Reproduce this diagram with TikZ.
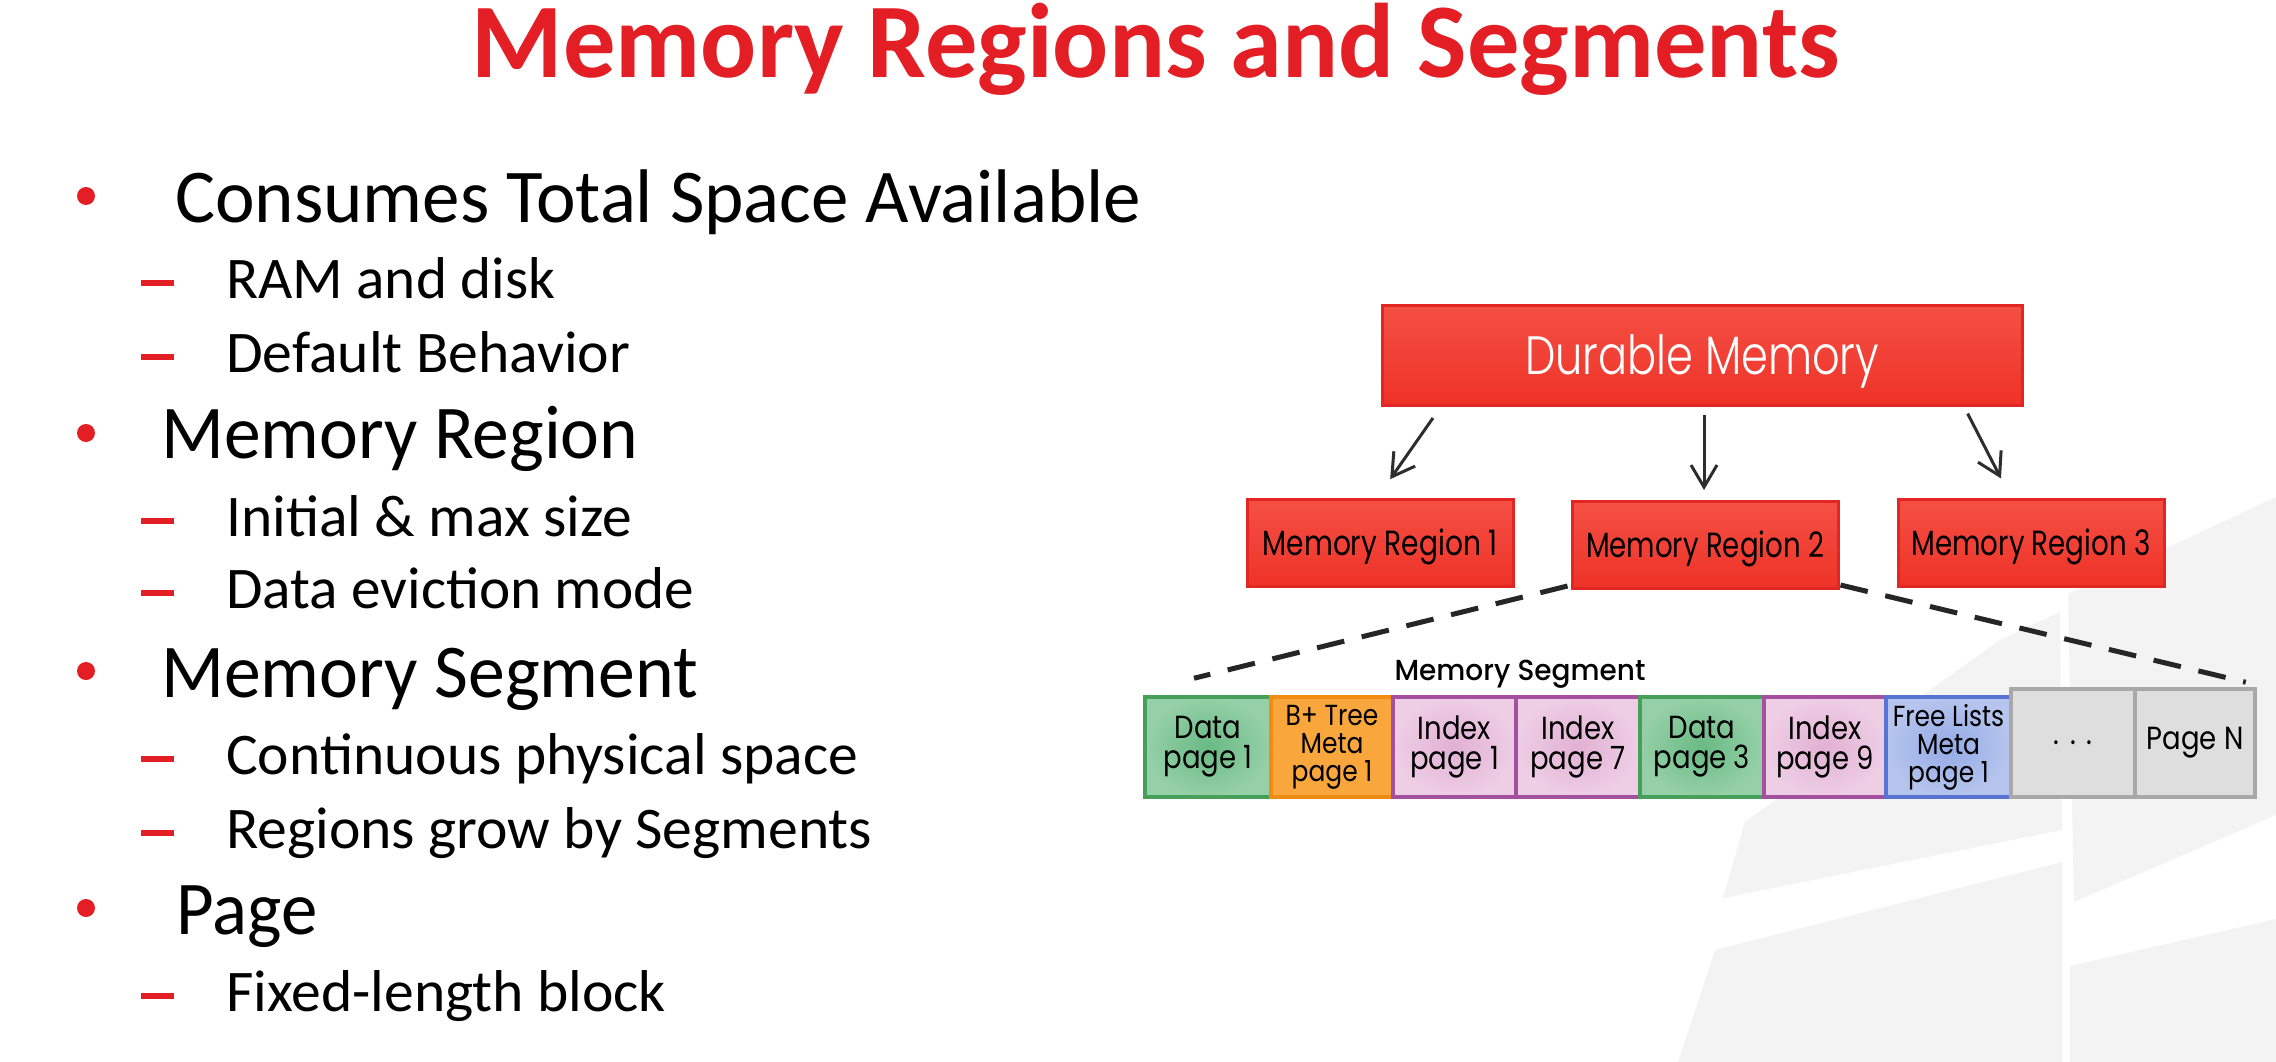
\documentclass[tikz,border=0pt]{standalone}
\usepackage{fontspec}
\usepackage{graphicx}
\setmainfont{Carlito}
\newfontfamily\dgfont{Poppins}
\newfontfamily\dgnarrow[FakeStretch=0.86]{Poppins}
\IfFontExistsTF{Poppins Light}
  {\newfontfamily\dglight{Poppins Light}}
  {\newfontfamily\dglight{Poppins}}
\IfFontExistsTF{Poppins Medium}
  {\newfontfamily\dgmedium{Poppins Medium}}
  {\newfontfamily\dgmedium{Poppins}}
\usetikzlibrary{arrows.meta}

% set a line of text to an exact width, keeping its height
\newcommand\fitto[2]{\resizebox{#1pt}{\height}{#2}}

\definecolor{slidered}{RGB}{227,30,36}
\definecolor{boxedge}{RGB}{225,38,36}
\definecolor{boxtop}{RGB}{245,80,68}
\definecolor{boxbot}{RGB}{238,50,40}
\definecolor{ink}{RGB}{45,45,45}
\definecolor{wm}{RGB}{243,243,243}
\definecolor{grnedge}{RGB}{70,160,90}
\definecolor{grnin}{RGB}{105,186,132}
\definecolor{grnout}{RGB}{150,208,168}
\definecolor{orgedge}{RGB}{240,140,20}
\definecolor{orgfill}{RGB}{249,166,60}
\definecolor{pnkedge}{RGB}{165,80,158}
\definecolor{pnkin}{RGB}{226,176,212}
\definecolor{pnkout}{RGB}{238,206,229}
\definecolor{bluedge}{RGB}{88,115,210}
\definecolor{bluin}{RGB}{148,170,230}
\definecolor{bluout}{RGB}{182,197,237}
\definecolor{gryedge}{RGB}{168,168,168}
\definecolor{gryfill}{RGB}{222,222,222}

\tikzset{
  titletext/.style={anchor=base, inner sep=0pt, text=slidered,
    font=\fontsize{106}{110}\selectfont\bfseries},
  mainitem/.style={anchor=base west, inner sep=0pt, text=black,
    font=\fontsize{76}{80}\selectfont},
  subitem/.style={anchor=base west, inner sep=0pt, text=black,
    font=\fontsize{59}{62}\selectfont},
  bulletdot/.style={circle, fill=slidered, inner sep=0pt, minimum size=18pt},
  subdash/.style={rectangle, fill=slidered, inner sep=0pt,
    minimum width=33pt, minimum height=6pt},
  redbox/.style={rectangle, draw=boxedge, line width=3pt,
    top color=boxtop, bottom color=boxbot, inner sep=0pt, text depth=0pt},
  regionbox/.style={redbox, minimum width=266pt, minimum height=87pt,
    text height=24pt, text=black, font=\dgfont\fontsize{35}{36}\selectfont},
  arr/.style={draw=ink, line width=3pt,
    -{Straight Barb[length=22pt,width=26pt]}},
  zoomline/.style={draw=black!85, line width=5pt, dash pattern=on 28pt off 18pt},
  pagebox/.style={rectangle, inner sep=0pt, minimum height=100pt,
    line width=3.5pt, align=center, text=black,
    font=\dgnarrow\fontsize{32}{30}\selectfont},
  tallpage/.style={pagebox, font=\dgnarrow\fontsize{29}{28}\selectfont},
  greenpage/.style={draw=grnedge, inner color=grnin, outer color=grnout},
  orangepage/.style={draw=orgedge, fill=orgfill},
  pinkpage/.style={draw=pnkedge, inner color=pnkin, outer color=pnkout},
  bluepage/.style={draw=bluedge, inner color=bluin, outer color=bluout},
  graypage/.style={draw=gryedge, fill=gryfill},
}

\begin{document}
\begin{tikzpicture}[x=1pt, y=-1pt]
\useasboundingbox (0,0) rectangle (2276,1062);
\fill[white] (0,0) rectangle (2276,1062);

% faint logo watermark in the lower right
\fill[wm] (2068,594) -- (2276,497) -- (2276,815) -- (2074,902) -- cycle;
\fill[wm] (1745,822) -- (2000,640) -- (2060,612) -- (2062,830) -- (1723,898) -- cycle;
\fill[wm] (1715,950) -- (2062,862) -- (2062,1062) -- (1678,1062) -- cycle;
\fill[wm] (2070,966) -- (2276,919) -- (2276,1062) -- (2070,1062) -- cycle;

% heading
\node[titletext] (title) at (1156,78) {\fitto{1368}{Memory Regions and Segments}};

% bullet list
\node[bulletdot] (b1) at (86,196) {};
\node[mainitem] (t1) at (175,222) {\fitto{966}{Consumes Total Space Available}};
\node[subdash] (s1) at (157,283) {};
\node[subitem] (u1) at (226,298) {\fitto{329}{RAM and disk}};
\node[subdash] (s2) at (157,357) {};
\node[subitem] (u2) at (226,372) {\fitto{404}{Default Behavior}};

\node[bulletdot] (b2) at (86,433) {};
\node[mainitem] (t2) at (161,458) {\fitto{477}{Memory Region}};
\node[subdash] (s3) at (157,521) {};
\node[subitem] (u3) at (226,536) {\fitto{406}{Initial \& max size}};
\node[subdash] (s4) at (157,593) {};
\node[subitem] (u4) at (226,608) {\fitto{468}{Data eviction mode}};

\node[bulletdot] (b3) at (86,671) {};
\node[mainitem] (t3) at (161,697) {\fitto{537}{Memory Segment}};
\node[subdash] (s5) at (157,759) {};
\node[subitem] (u5) at (226,774) {\fitto{632}{Continuous physical space}};
\node[subdash] (s6) at (157,833) {};
\node[subitem] (u6) at (226,848) {\fitto{646}{Regions grow by Segments}};

\node[bulletdot] (b4) at (86,908) {};
\node[mainitem] (t4) at (176,934) {\fitto{141}{Page}};
\node[subdash] (s7) at (157,996) {};
\node[subitem] (u7) at (226,1011) {\fitto{440}{Fixed-length block}};

% durable memory and its regions
\node[redbox, minimum width=640pt, minimum height=100pt, text height=38pt,
      text=white, font=\dglight\fontsize{54}{56}\selectfont]
  (dm) at (1702,355) {\fitto{354}{Durable Memory}};

\node[regionbox] (r1) at (1380,543) {\fitto{235}{Memory Region 1}};
\node[regionbox] (r2) at (1705,545) {\fitto{238}{Memory Region 2}};
\node[regionbox] (r3) at (2031,543) {\fitto{239}{Memory Region 3}};

\draw[arr, shorten <=14pt, shorten >=23pt]
  ([xshift=-261pt]dm.south) -- ([xshift=-3pt]r1.north);
\draw[arr, shorten <=8pt, shorten >=10pt]
  ([xshift=2pt]dm.south) -- ([xshift=-1pt]r2.north);
\draw[arr, shorten <=8pt, shorten >=22pt]
  ([xshift=262pt]dm.south) -- ([xshift=-20pt]r3.north);

% pages of one segment
\node[pagebox, greenpage, minimum width=126pt] (d1) at (1208,747) {Data\\page 1};
\node[tallpage, orangepage, minimum width=122pt] (bt) at (1332,747) {B+ Tree\\Meta\\page 1};
\node[pagebox, pinkpage, minimum width=123pt] (i1) at (1454.5,747) {Index\\page 1};
\node[pagebox, pinkpage, minimum width=124pt] (i7) at (1578,747) {Index\\page 7};
\node[pagebox, greenpage, minimum width=124pt] (d3) at (1702,747) {Data\\page 3};
\node[pagebox, pinkpage, minimum width=122pt] (i9) at (1825,747) {Index\\page 9};
\node[tallpage, bluepage, minimum width=125pt] (fl) at (1948.5,747) {Free Lists\\Meta\\page 1};
\node[pagebox, graypage, minimum width=124pt, minimum height=108pt] (dd) at (2073,743) {.\,\,.\,\,.};
\node[pagebox, graypage, minimum width=120pt, minimum height=108pt] (pn) at (2195,743) {Page N};

\node[anchor=base, inner sep=0pt, text=black, font=\dgmedium\fontsize{29}{30}\selectfont]
  (seglabel) at (1520,680) {\fitto{251}{Memory Segment}};

% zoom from region 2 onto the segment
\draw[zoomline] ([xshift=-3pt,yshift=4pt]r2.south west) -- ([xshift=-14pt,yshift=17pt]d1.north);
\draw[zoomline] ([xshift=1pt,yshift=5pt]r2.south east) -- ([xshift=-11pt,yshift=5pt]pn.north east);
\end{tikzpicture}
\end{document}
